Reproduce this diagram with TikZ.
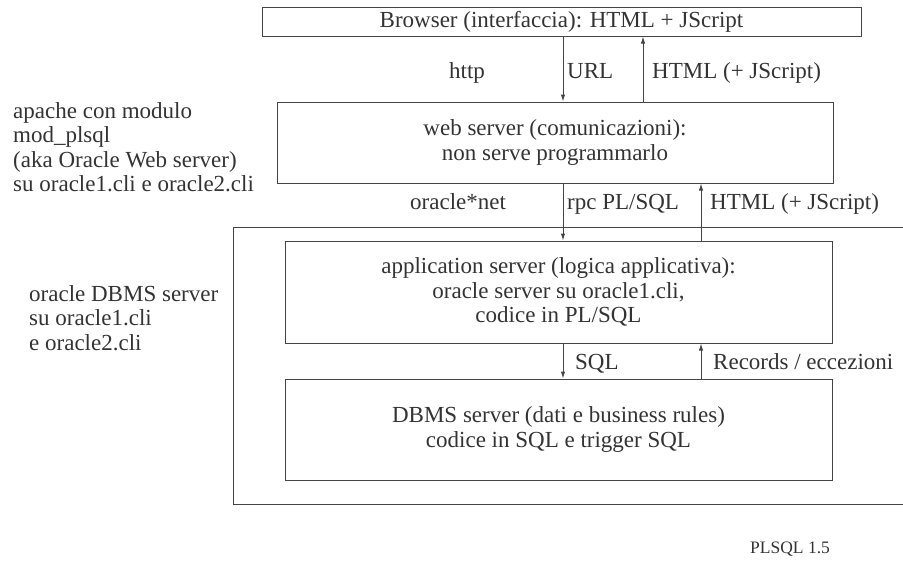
\documentclass[tikz,border=0pt]{standalone}
\usepackage{fontspec}
\setmainfont{Liberation Serif}
\usepackage{tikz}
\usetikzlibrary{arrows.meta}

\definecolor{ink}{HTML}{333333}
\definecolor{rule}{HTML}{444444}

\begin{document}
\begin{tikzpicture}[x=1pt, y=-1pt,
    every node/.style={text=ink, inner sep=0pt, font=\fontsize{23}{24.5}\selectfont},
    box/.style={draw=rule, line width=1pt, rectangle, align=center},
    arr/.style={rule, line width=1pt, -{Latex[length=7pt,width=4.5pt]}},
    lbl/.style={anchor=base west}]
\useasboundingbox (0,0) rectangle (903,562);

\node [box, minimum width=599, minimum height=29] (browser) at (561.5,21.5) {Browser (interfaccia): HTML + JScript};
\node [box, minimum width=556, minimum height=81] (web) at (555,142.5) {web server (comunicazioni):\\non serve programmarlo};
\node [box, minimum width=547, minimum height=102] (app) at (558.5,292) {application server (logica applicativa):\\oracle server su oracle1.cli,\\codice in PL/SQL};
\node [box, minimum width=547, minimum height=101] (dbms) at (558.5,429.5) {DBMS server (dati e business rules)\\codice in SQL e trigger SQL};

\draw [rule, line width=1pt] (903,227) -- (233,227) -- (233,504) -- (903,504);

\coordinate (xdown) at (563,0);
\coordinate (xupA) at (643,0);
\coordinate (xupB) at (701,0);

\draw [arr] (browser.south -| xdown) -- (web.north -| xdown);
\draw [arr] (web.north -| xupA) -- (browser.south -| xupA);
\draw [arr] (web.south -| xdown) -- (app.north -| xdown);
\draw [arr] (app.north -| xupB) -- (web.south -| xupB);
\draw [arr] (app.south -| xdown) -- (dbms.north -| xdown);
\draw [arr] (dbms.north -| xupB) -- (app.south -| xupB);

\node [lbl] (http) at (449,78) {http};
\node [lbl] (url) at (567,78) {URL};
\node [lbl] (html1) at (652,78) {HTML (+ JScript)};
\node [lbl] (onet) at (410,209) {oracle*net};
\node [lbl] (rpc) at (567,209) {rpc PL/SQL};
\node [lbl] (html2) at (710,209) {HTML (+ JScript)};
\node [lbl] (sql) at (575,369) {SQL};
\node [lbl] (rec) at (713,369) {Records / eccezioni};

\node [anchor=west, align=left] (apache) at (13,147) {apache con modulo\\mod\_plsql\\(aka Oracle Web server)\\su oracle1.cli e oracle2.cli};
\node [anchor=west, align=left] (odbms) at (29,318) {oracle DBMS server\\su oracle1.cli\\e oracle2.cli};

\node [anchor=west, font=\fontsize{17.5}{19}\selectfont] (tag) at (750,549) {PLSQL 1.5};
\end{tikzpicture}
\end{document}
